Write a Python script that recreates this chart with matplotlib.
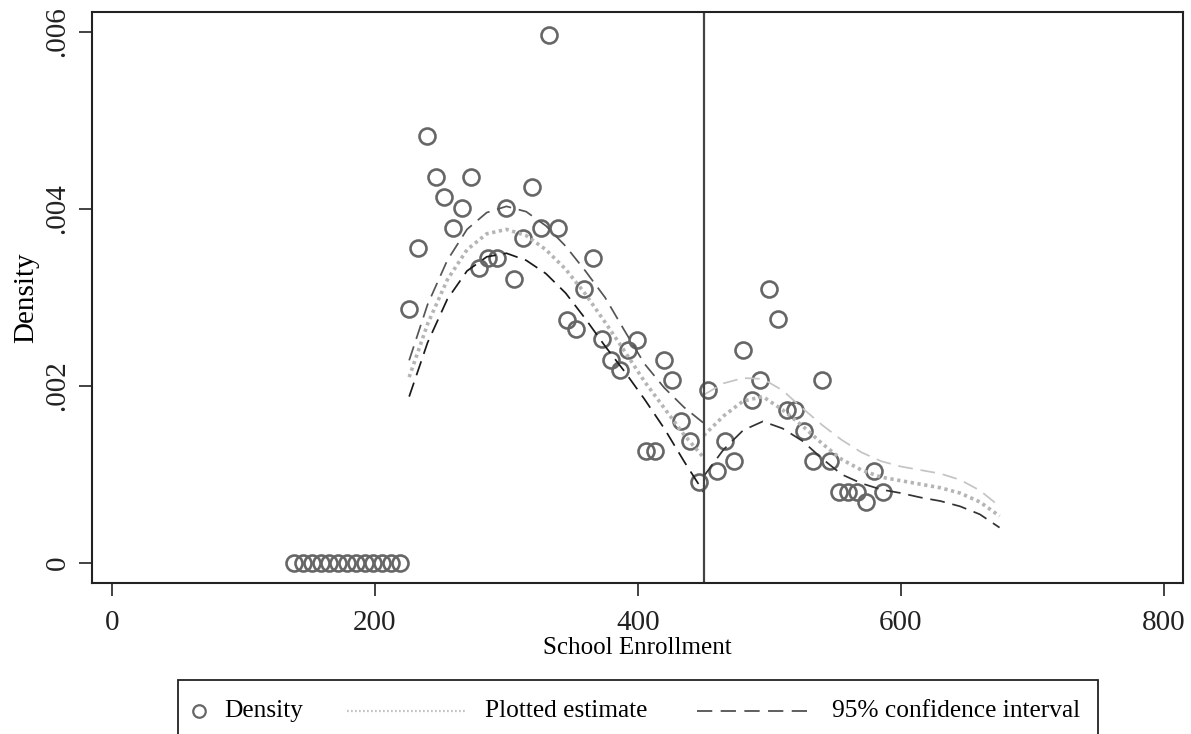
import matplotlib
matplotlib.use("Agg")
import matplotlib.pyplot as plt
from matplotlib.lines import Line2D
from matplotlib.patches import Rectangle

plt.rcParams['font.family'] = ['Liberation Serif', 'DejaVu Serif']

# binned density (empty bins below the first occupied bin)
zero_x = [138.4, 145.2, 151.9, 158.6, 165.3, 172.0, 178.7, 185.4, 192.1,
          198.8, 205.5, 212.2, 218.9]
zero_y = [0.0] * len(zero_x)

bin_x = [225.9, 232.7, 239.5, 246.4, 252.5, 259.3, 266.2, 273.0, 279.0, 286.0,
         292.8, 299.6, 305.7, 312.5, 319.4, 326.2, 332.3, 339.2, 346.0, 352.9,
         359.0, 365.8, 372.6, 379.5, 386.3, 392.4, 399.2, 406.1, 412.9, 419.8,
         425.9, 432.7, 439.5, 446.4, 453.2, 460.0, 466.2, 473.0, 479.8, 486.7,
         492.8, 499.6, 506.5, 513.3, 519.4, 526.2, 533.1, 539.9, 546.0, 552.8,
         559.7, 566.5, 573.4, 579.5, 586.3]
bin_y = [0.00287, 0.00356, 0.00482, 0.00436, 0.00414, 0.00379, 0.00401, 0.00436,
         0.00333, 0.00345, 0.00345, 0.00401, 0.00321, 0.00367, 0.00425, 0.00379,
         0.00597, 0.00379, 0.00275, 0.00264, 0.00310, 0.00345, 0.00253, 0.00229,
         0.00218, 0.00241, 0.00252, 0.00127, 0.00127, 0.00229, 0.00207, 0.00160,
         0.00138, 0.00092, 0.00195, 0.00104, 0.00138, 0.00115, 0.00241, 0.00184,
         0.00207, 0.00310, 0.00276, 0.00173, 0.00173, 0.00149, 0.00115, 0.00207,
         0.00115, 0.00080, 0.00080, 0.00080, 0.00069, 0.00104, 0.00080]

# local linear fit, left of cutoff
left_x = [226, 240, 255, 270, 285, 300, 315, 330, 345, 360, 375, 390, 405, 420, 435, 450]
left_fit = [0.00210, 0.00270, 0.00320, 0.00354, 0.00372, 0.00377, 0.00370, 0.00354,
            0.00332, 0.00304, 0.00272, 0.00239, 0.00205, 0.00175, 0.00145, 0.00119]
left_hi = [0.00229, 0.00292, 0.00342, 0.00377, 0.00396, 0.00403, 0.00397, 0.00381,
           0.00358, 0.00330, 0.00300, 0.00262, 0.00225, 0.00198, 0.00176, 0.00158]
left_lo = [0.00188, 0.00249, 0.00298, 0.00330, 0.00346, 0.00350, 0.00342, 0.00327,
           0.00305, 0.00276, 0.00245, 0.00216, 0.00185, 0.00152, 0.00115, 0.00080]

# local linear fit, right of cutoff
right_x = [450, 465, 480, 495, 510, 525, 540, 555, 570, 585, 600, 615, 630, 645, 660, 675]
right_fit = [0.00144, 0.00166, 0.00183, 0.00188, 0.00173, 0.00155, 0.00135, 0.00117,
             0.00105, 0.00097, 0.00093, 0.00089, 0.00085, 0.00079, 0.00069, 0.00053]
right_hi = [0.00190, 0.00203, 0.00209, 0.00208, 0.00195, 0.00175, 0.00156, 0.00139,
            0.00125, 0.00115, 0.00109, 0.00105, 0.00101, 0.00094, 0.00082, 0.00064]
right_lo = [0.00098, 0.00128, 0.00150, 0.00160, 0.00152, 0.00138, 0.00118, 0.00100,
            0.00090, 0.00083, 0.00079, 0.00074, 0.00070, 0.00064, 0.00055, 0.00040]

cutoff = 450
x_ticks = [0, 200, 400, 600, 800]
y_ticks = [0, 0.002, 0.004, 0.006]
y_ticklabels = ['0', '.002', '.004', '.006']

W, H = 1191, 734
fig = plt.figure(figsize=(W / 100, H / 100), dpi=100)
ax = fig.add_axes([92 / W, 1 - 583 / H, (1183 - 92) / W, (583 - 12) / H])

mk = dict(marker='o', markersize=11.5, markerfacecolor='none',
          markeredgecolor='#666666', markeredgewidth=1.9, linestyle='none')
dot = dict(color='#b5b5b5', linewidth=2.6, linestyle=(0, (0.9, 1.0)))
dash = dict(linewidth=1.25, dashes=(8.5, 4.5))

ax.plot(zero_x, zero_y, **mk)
ax.plot(bin_x, bin_y, **mk)

ax.plot(left_x, left_hi, color='#555555', **dash)
ax.plot(left_x, left_lo, color='#1a1a1a', **dash)
ax.plot(left_x, left_fit, **dot)
ax.plot(right_x, right_hi, color='#c4c4c4', **dash)
ax.plot(right_x, right_lo, color='#333333', **dash)
ax.plot(right_x, right_fit, **dot)

ax.axvline(cutoff, color='#444444', linewidth=1.6)

ax.set_xlim(-15.2, 814.5)
ax.set_ylim(-0.000226, 0.006226)
ax.set_xticks(x_ticks)
ax.set_xticklabels([str(v) for v in x_ticks])
ax.set_yticks(y_ticks)
ax.set_yticklabels(y_ticklabels, rotation=90, va='center')

for s in ax.spines.values():
    s.set_linewidth(1.5)
    s.set_color('#222222')
ax.tick_params(direction='out', length=9.5, width=1.2, labelsize=21, colors='#222222')
ax.tick_params(axis='x', pad=10)
ax.tick_params(axis='y', pad=6)

ax.set_xlabel('School Enrollment', fontsize=18, labelpad=1)
ax.set_ylabel('Density', fontsize=21, labelpad=4)

# legend drawn by hand in figure pixels
def fx(px):
    return px / W

def fy(py):
    return 1 - py / H

fig.add_artist(Rectangle((fx(178), fy(760)), fx(1098) - fx(178), fy(680) - fy(760),
                         transform=fig.transFigure, facecolor='white',
                         edgecolor='#222222', linewidth=1.3))
ly = fy(711)
fig.add_artist(Line2D([fx(199)], [ly], transform=fig.transFigure,
                      marker='o', markersize=9, markerfacecolor='none',
                      markeredgecolor='#666666', markeredgewidth=1.6))
fig.text(fx(224), ly, 'Density', fontsize=18.3, va='center', ha='left')
fig.add_artist(Line2D([fx(347), fx(467)], [ly, ly], transform=fig.transFigure,
                      color='#c4c4c4', linewidth=1.6, linestyle=(0, (0.8, 1.0))))
fig.text(fx(485), ly, 'Plotted estimate', fontsize=18.3, va='center', ha='left')
fig.add_artist(Line2D([fx(697), fx(812)], [ly, ly], transform=fig.transFigure,
                      color='#333333', linewidth=1.1, dashes=(10, 5.5)))
fig.text(fx(832), ly, '95% confidence interval', fontsize=18.3, va='center', ha='left')

fig.savefig('out.png', dpi=100)
